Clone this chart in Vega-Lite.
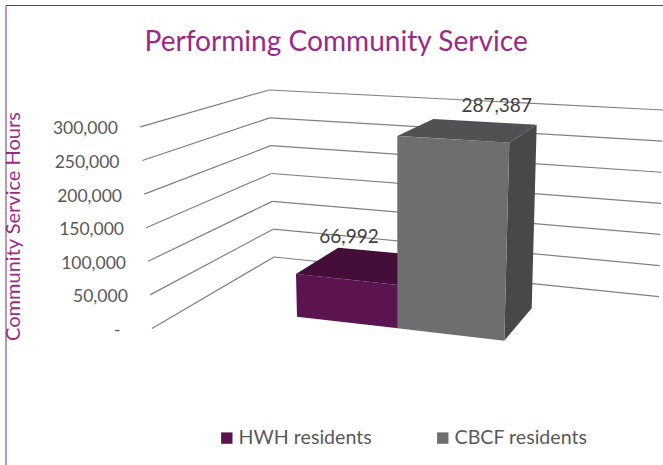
{"$schema":"https://vega.github.io/schema/vega-lite/v6.json","width":663,"height":465,"padding":0,"autosize":{"type":"none"},"background":"white","title":{"text":"Performing Community Service","anchor":"start","dx":144.5,"offset":-57,"font":"Lato","fontSize":28.1,"fontWeight":"normal","color":"#9B2A87"},"datasets":{"bars":[{"series":"HWH residents","hours":66992},{"series":"CBCF residents","hours":287387}],"grid":[{"level":0},{"level":50000},{"level":100000},{"level":150000},{"level":200000},{"level":250000},{"level":300000}]},"data":{"name":"bars"},"config":{"view":{"stroke":null},"font":"Lato"},"layer":[{"data":{"name":"grid"},"transform":[{"calculate":"152-11.7*datum.level/300000","as":"x1"},{"calculate":"274-5*datum.level/300000","as":"x2"},{"calculate":"106392+0.8283*datum.level","as":"y2"}],"mark":{"type":"rule","color":"#808080","strokeWidth":1.2},"encoding":{"x":{"field":"x1","type":"quantitative","scale":{"domain":[0,663],"nice":false,"zero":false},"axis":null},"x2":{"field":"x2"},"y":{"field":"level","type":"quantitative","scale":{"domain":[-203112,488808],"nice":false,"zero":false},"axis":{"title":"Community Service Hours","titleFont":"Lato","titleFontSize":20,"titleFontWeight":"normal","titleColor":"#9B2A87","titleX":-115,"titleY":226,"titleAngle":-90,"titleBaseline":"middle","titleAlign":"center","offset":-128,"values":[0,50000,100000,150000,200000,250000,300000],"labelExpr":"datum.value==0 ? '-' : format(datum.value,',')","labelFont":"Lato","labelFontSize":17.5,"labelColor":"#595959","labelOffset":2,"labelPadding":{"condition":[{"test":"datum.value==300000","value":10.7},{"test":"datum.value==250000","value":9},{"test":"datum.value==200000","value":6.5},{"test":"datum.value==150000","value":4.5},{"test":"datum.value==100000","value":2.5},{"test":"datum.value==50000","value":0.7}],"value":8},"ticks":false,"domain":false,"grid":false}},"y2":{"field":"y2"}}},{"data":{"values":[{}]},"mark":{"type":"rule","color":"#7A2C78","strokeWidth":1},"encoding":{"x":{"datum":6,"type":"quantitative","scale":{"domain":[0,663],"nice":false,"zero":false},"axis":null},"y":{"datum":480624,"type":"quantitative","scale":{"domain":[-203112,488808],"nice":false,"zero":false}},"y2":{"datum":-203112}}},{"data":{"values":[{}]},"mark":{"type":"rule","color":"#7A2C78","strokeWidth":1},"encoding":{"x":{"datum":6,"type":"quantitative","scale":{"domain":[0,663],"nice":false,"zero":false},"axis":null},"x2":{"datum":663},"y":{"datum":480624,"type":"quantitative","scale":{"domain":[-203112,488808],"nice":false,"zero":false}},"y2":{"datum":480624}}},{"data":{"name":"grid"},"transform":[{"calculate":"274-5*datum.level/300000","as":"x1"},{"calculate":"659+4*datum.level/300000","as":"x2"},{"calculate":"106392+0.8283*datum.level","as":"y1"},{"calculate":"47318+0.926*datum.level","as":"y2"}],"mark":{"type":"rule","color":"#808080","strokeWidth":1.2},"encoding":{"x":{"field":"x1","type":"quantitative","scale":{"domain":[0,663],"nice":false,"zero":false},"axis":null},"x2":{"field":"x2"},"y":{"field":"y1","type":"quantitative","scale":{"domain":[-203112,488808],"nice":false,"zero":false}},"y2":{"field":"y2"}}},{"transform":[{"filter":"datum.series=='HWH residents'"},{"calculate":"[0,1,2]","as":"c"},{"flatten":["c"]},{"calculate":"[296,338.3,398][datum.c]","as":"px"},{"calculate":"datum.hours+1488*(283.5-[274,247.7,253.3][datum.c])","as":"up"},{"calculate":"datum.hours+1488*(283.5-[274,278.6,285][datum.c])","as":"low"}],"mark":{"type":"area","color":"#450E38"},"encoding":{"x":{"field":"px","type":"quantitative","scale":{"domain":[0,663],"nice":false,"zero":false},"axis":null},"y":{"field":"up","type":"quantitative","scale":{"domain":[-203112,488808],"nice":false,"zero":false}},"y2":{"field":"low"}}},{"transform":[{"filter":"datum.series=='CBCF residents'"},{"calculate":"[0,1,2,3]","as":"c"},{"flatten":["c"]},{"calculate":"[504.3,509.3,531.7,536.7][datum.c]","as":"px"},{"calculate":"[1488*(328.5-340.7),datum.hours+1488*(135.4-142.7),datum.hours+1488*(135.4-128),datum.hours+1488*(135.4-124.7)][datum.c]","as":"up"},{"calculate":"[1488*(328.5-340.7),1488*(328.5-334.8),1488*(328.5-308.3),datum.hours+1488*(135.4-124.7)][datum.c]","as":"low"}],"mark":{"type":"area","color":"#474948"},"encoding":{"x":{"field":"px","type":"quantitative","scale":{"domain":[0,663],"nice":false,"zero":false},"axis":null},"y":{"field":"up","type":"quantitative","scale":{"domain":[-203112,488808],"nice":false,"zero":false}},"y2":{"field":"low"}}},{"transform":[{"filter":"datum.series=='CBCF residents'"},{"calculate":"[0,1,2,3]","as":"c"},{"flatten":["c"]},{"calculate":"[397.3,433.3,509.3,536.7][datum.c]","as":"px"},{"calculate":"datum.hours+1488*(135.4-[136,119,123.2,124.7][datum.c])","as":"up"},{"calculate":"datum.hours+1488*(135.4-[136,138.15,142.7,124.7][datum.c])","as":"low"}],"mark":{"type":"area","color":"#515153"},"encoding":{"x":{"field":"px","type":"quantitative","scale":{"domain":[0,663],"nice":false,"zero":false},"axis":null},"y":{"field":"up","type":"quantitative","scale":{"domain":[-203112,488808],"nice":false,"zero":false}},"y2":{"field":"low"}}},{"transform":[{"calculate":"[0,1,2]","as":"c"},{"flatten":["c"]},{"calculate":"(datum.series=='CBCF residents'?[397.3,504.3,509.3]:[296,297,398])[datum.c]","as":"px"},{"calculate":"datum.series=='CBCF residents'?datum.hours+1488*(135.4-[136,142.4,142.7][datum.c]):datum.hours+1488*(283.5-[274,274.1,285][datum.c])","as":"up"},{"calculate":"(datum.series=='CBCF residents'?[1488*(328.5-328.3),1488*(328.5-340.7),datum.hours+1488*(135.4-142.7)]:[datum.hours+1488*(283.5-274),1488*(328.5-316.7),1488*(328.5-328.3)])[datum.c]","as":"low"}],"mark":{"type":"area"},"encoding":{"x":{"field":"px","type":"quantitative","scale":{"domain":[0,663],"nice":false,"zero":false},"axis":null},"y":{"field":"up","type":"quantitative","scale":{"domain":[-203112,488808],"nice":false,"zero":false}},"y2":{"field":"low"},"color":{"field":"series","type":"nominal","scale":{"domain":["HWH residents","CBCF residents"],"range":["#5B1450","#6D6E70"]},"legend":{"title":null,"orient":"none","legendX":217,"legendY":428,"direction":"horizontal","columns":2,"symbolType":"square","symbolSize":130,"symbolStrokeWidth":0,"labelFont":"Lato","labelFontSize":19.6,"labelColor":"#595959","columnPadding":61,"labelOffset":2}}}},{"transform":[{"calculate":"datum.series=='CBCF residents'?496.7:349","as":"lx"},{"calculate":"datum.series=='CBCF residents'?datum.hours+1488*(135.4-105.7):datum.hours+1488*(283.5-236.7)","as":"ly"}],"mark":{"type":"text","font":"Lato","fontSize":19,"color":"#404040","baseline":"middle","align":"center"},"encoding":{"x":{"field":"lx","type":"quantitative","scale":{"domain":[0,663],"nice":false,"zero":false},"axis":null},"y":{"field":"ly","type":"quantitative","scale":{"domain":[-203112,488808],"nice":false,"zero":false}},"text":{"field":"hours","type":"quantitative","format":","}}}],"resolve":{"axis":{"y":"shared"}}}
